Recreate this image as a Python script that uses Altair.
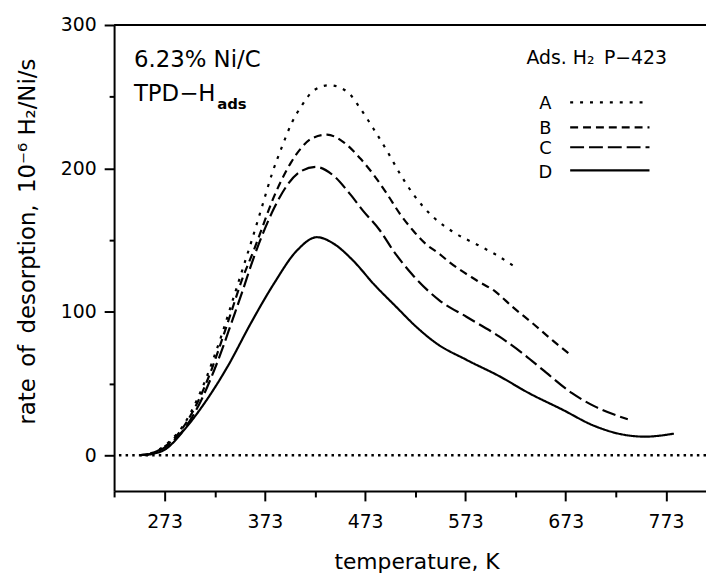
import altair as alt
import pandas as pd

# ---- data ----
series_names = ["A", "B", "C", "D"]

A_T = [249, 260, 270, 280, 290, 300, 310, 320, 330, 340, 350, 360, 370, 380, 390, 400, 410, 422, 437, 455, 468, 481, 495, 508, 521, 541, 560, 587, 603, 623]
A_rate = [0, 1.5, 5, 11, 19, 31, 46, 64, 84, 106, 128, 150, 173, 196, 215, 232, 244, 254.5, 258, 253.5, 242, 228, 212, 196, 182, 166, 156, 146, 140, 131]

B_T = [249, 260, 270, 280, 290, 300, 310, 320, 330, 340, 350, 362, 369, 379, 389, 399, 409, 420, 435, 452, 468, 481, 495, 508, 521, 534, 547, 557, 584, 603, 620, 640, 660, 676]
B_rate = [0, 1.3, 4.5, 10, 18, 29, 43, 60, 80, 101, 122, 143, 156, 175, 191, 204, 214, 221, 223.5, 218, 207, 196, 182, 168, 156.5, 147, 140.4, 134.6, 122, 114, 103.4, 92, 80, 71]

C_T = [249, 260, 270, 280, 290, 300, 310, 320, 330, 340, 350, 362, 369, 382, 396, 409, 424, 442, 458, 471, 488, 501, 520, 547, 574, 607, 630, 650, 679, 702, 735]
C_rate = [0, 1.1, 4, 9, 16, 26, 39, 55, 73, 93, 113, 138, 151, 172, 189, 198, 201, 194.6, 182, 170.4, 156.5, 142.7, 126, 108, 96.5, 82.6, 71, 59.6, 43.4, 34, 25]

D_T = [253, 260, 274, 293, 313, 336, 359, 382, 405, 425, 442, 461, 482, 504, 524, 544, 574, 607, 636, 669, 702, 729, 752, 781]
D_rate = [0, 0.7, 4.2, 18, 36.5, 62, 92, 119.6, 142.7, 152, 147.3, 135.7, 119, 103.4, 89.5, 78, 66.5, 55, 43.4, 32, 20.3, 14.5, 12.9, 15]

x_tick_values = [223, 273, 323, 373, 423, 473, 523, 573, 623, 673, 723, 773]
y_tick_values = [0, 50, 100, 150, 200, 250, 300]

# ---- build table ----
rows = []
for name, Ts, rs in zip(series_names, [A_T, B_T, C_T, D_T], [A_rate, B_rate, C_rate, D_rate]):
    for i, (t, r) in enumerate(zip(Ts, rs)):
        rows.append({"series": name, "T": t, "rate": r, "idx": i})
df = pd.DataFrame(rows)

FONT = "DejaVu Sans"
dash_range = [[3, 7], [8, 5], [14, 5], [1, 0]]

xscale = alt.Scale(domain=[222.6, 813], nice=False, zero=False)
yscale = alt.Scale(domain=[-25, 300], nice=False, zero=False)

xaxis = alt.Axis(
    values=x_tick_values,
    labelExpr="datum.value % 100 == 73 ? datum.label : ''",
    tickSize={"condition": {"test": "datum.value % 100 == 73", "value": 10}, "value": 6},
    labelPadding=12,
    title="temperature, K",
    titleX=305, titleY=78, titleBaseline="alphabetic", titleAlign="center",
    titleFontSize=22, titleFont=FONT, titleFontWeight="normal",
)
yaxis = alt.Axis(
    values=y_tick_values,
    labelExpr="datum.value % 100 == 0 ? datum.label : ''",
    tickSize={"condition": {"test": "datum.value % 100 == 0", "value": 10}, "value": 5},
    labelPadding=8,
    title="rate\u2002of\u2002desorption,\u200210\u207b\u2076 H\u2082/Ni/s",
    titleX=-87, titleY=218, titleAngle=270, titleAlign="center", titleBaseline="middle",
    titleFontSize=23, titleFont=FONT, titleFontWeight="normal",
)

curves = alt.Chart(df).mark_line(strokeWidth=2.2, strokeCap="butt", color="black", interpolate="monotone").encode(
    x=alt.X("T:Q", scale=xscale, axis=xaxis),
    y=alt.Y("rate:Q", scale=yscale, axis=yaxis),
    strokeDash=alt.StrokeDash("series:N", scale=alt.Scale(domain=series_names, range=dash_range), legend=None),
    detail="series:N",
    order="idx:Q",
)

one = alt.Data(values=[{"k": 1}])

zero_line = alt.Chart(one).mark_rule(strokeDash=[2.5, 4.2], strokeWidth=2.5, color="black").encode(
    y=alt.Y("z:Q", scale=yscale)).transform_calculate(z="0")
top_line = alt.Chart(one).mark_rule(strokeWidth=2, color="black").encode(
    y=alt.Y("t:Q", scale=yscale)).transform_calculate(t="300")

def txt(s, x, y, size, weight="normal", align="left"):
    return alt.Chart(one).mark_text(text=s, font=FONT, fontSize=size, fontWeight=weight, align=align,
                                    baseline="alphabetic", color="black").encode(x=alt.value(x), y=alt.value(y))

labels = [
    txt("6.23% Ni/C", 20, 42, 23),
    txt("TPD\u2212H", 20, 77, 23),
    txt("ads", 104, 85, 15, weight="bold"),
    txt("Ads. H\u2082\u2002P\u2212423", 416, 39, 19),
]

legend_y_line = [78, 103.3, 123.3, 146.6]
legend_y_text = [84.5, 109.5, 130.5, 154]
legend_layers = []
for name, dash, yl, yt in zip(series_names, dash_range, legend_y_line, legend_y_text):
    legend_layers.append(txt(name, 435, yt, 18, align="center"))
    legend_layers.append(
        alt.Chart(one).mark_rule(strokeDash=dash, strokeWidth=2.2, color="black", strokeCap="butt").encode(
            x=alt.value(460), x2=alt.value(540), y=alt.value(yl))
    )

chart = alt.layer(curves, zero_line, top_line, *labels, *legend_layers).properties(
    width=597, height=470,
    autosize=alt.AutoSizeParams(type="none"),
    padding={"left": 107, "top": 14.7, "right": 0, "bottom": 84},
).configure_view(stroke=None).configure_axis(
    grid=False, domainColor="black", domainWidth=2, tickColor="black", tickWidth=2,
    labelColor="black", labelFont=FONT, labelFontSize=19, titleColor="black",
)

chart.save("out.html", embed_options={"renderer": "svg", "actions": False})
